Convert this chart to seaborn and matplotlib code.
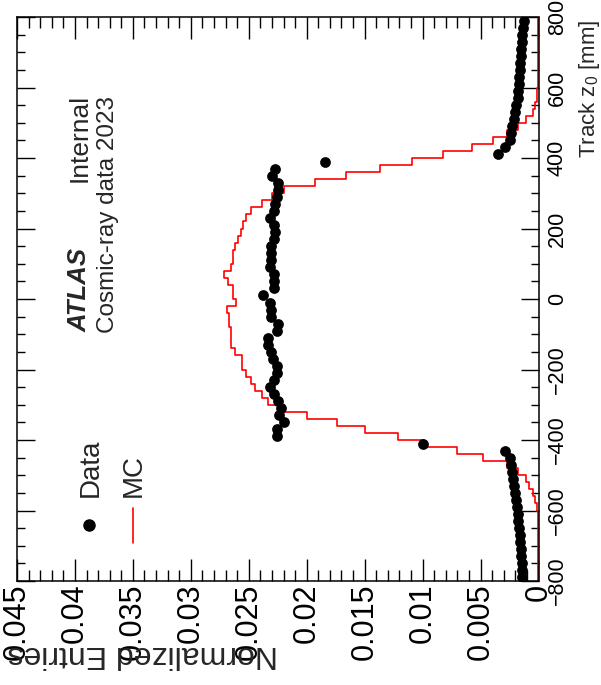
import numpy as np
import pandas as pd
import matplotlib
matplotlib.use("Agg")
import matplotlib.pyplot as plt
import seaborn as sns
from matplotlib.ticker import FixedLocator, FixedFormatter, MultipleLocator

# ---------------- data ----------------
z_edges = np.arange(-800, 801, 20)
z_centers = (z_edges[:-1] + z_edges[1:]) / 2

data_low_tail = [0.00139, 0.00142, 0.00145, 0.00149, 0.00154, 0.00158, 0.00163, 0.00168,
                 0.00175, 0.00180, 0.00185, 0.00192, 0.00200, 0.00208, 0.00216, 0.00226,
                 0.00235, 0.00248, 0.00290, 0.0100]
data_plateau = [0.0226, 0.0226, 0.0220, 0.0224, 0.0222, 0.0225, 0.0228, 0.0232, 0.0228, 0.0226,
                0.0226, 0.0229, 0.0231, 0.0233, 0.0233, 0.0226, 0.0225, 0.0231, 0.0231, 0.0232,
                0.0238, 0.0228, 0.0228, 0.0228, 0.0232, 0.0231, 0.0231, 0.0231, 0.0228, 0.0227,
                0.0228, 0.0232, 0.0228, 0.0227, 0.0226, 0.0225, 0.0225, 0.0230, 0.0227, 0.0184]
data_high_tail = [0.00352, 0.00286, 0.00248, 0.00236, 0.00226, 0.00212, 0.00200, 0.00190,
                  0.00181, 0.00176, 0.00170, 0.00165, 0.00160, 0.00156, 0.00153, 0.00149,
                  0.00145, 0.00140, 0.00134, 0.00128]
data_vals = data_low_tail + data_plateau + data_high_tail

mc_low = [0.00002] * 10 + [0.0001, 0.0003, 0.0005, 0.0008, 0.0011, 0.0018, 0.0027, 0.0048,
                           0.0070, 0.0099, 0.0121, 0.0150, 0.0174, 0.0200]
mc_mid_neg = [0.0223, 0.0233, 0.0239, 0.0245, 0.0248, 0.0252, 0.0256, 0.0256,
              0.0262, 0.0265, 0.0265, 0.0265, 0.0267, 0.0267, 0.0269, 0.0261]
mc_mid_pos = [0.0264, 0.0264, 0.0268, 0.0271, 0.0265, 0.0264, 0.0264, 0.0262,
              0.0259, 0.0257, 0.0255, 0.0252, 0.0248, 0.0239, 0.0230, 0.0220]
mc_high = [0.0193, 0.0166, 0.0137, 0.0109, 0.0082, 0.0057, 0.0039, 0.0027, 0.0018, 0.0011,
           0.0005, 0.0003, 0.00015, 0.0001] + [0.00002] * 10
mc_vals = mc_low + mc_mid_neg + mc_mid_pos + mc_high

x_ticks = [0, 0.005, 0.01, 0.015, 0.02, 0.025, 0.03, 0.035, 0.04, 0.045]
x_tick_labels = ["0", "0.005", "0.01", "0.015", "0.02", "0.025", "0.03", "0.035", "0.04", "0.045"]
z_ticks = [-800, -600, -400, -200, 0, 200, 400, 600, 800]
z_tick_labels = ["\u2212800", "\u2212600", "\u2212400", "\u2212200", "0", "200", "400", "600", "800"]

df_data = pd.DataFrame({"z": z_centers, "val": data_vals})
df_mc = pd.DataFrame({"z": z_centers, "val": mc_vals})

# ---------------- style ----------------
sns.set_theme(style="white")
plt.rcParams['font.family'] = ['Liberation Sans', 'DejaVu Sans']
plt.rcParams['mathtext.fontset'] = 'custom'
plt.rcParams['mathtext.rm'] = 'Liberation Sans'
plt.rcParams['mathtext.it'] = 'Liberation Sans:italic'

W, H = 601, 685
fig = plt.figure(figsize=(W / 100, H / 100), dpi=100)
L, R, T, B = 17, 538.5, 17, 581
ax = fig.add_axes([L / W, 1 - B / H, (R - L) / W, (B - T) / H])

sns.histplot(data=df_mc, y="z", weights="val", binwidth=20, binrange=(-800, 800),
             element="step", fill=False, color="#ff0000", linewidth=1.2, ax=ax, zorder=2)
sns.scatterplot(data=df_data, x="val", y="z", color="black", s=60, linewidth=0,
                ax=ax, legend=False, zorder=3)

ax.set_xlim(0.045, 0)
ax.set_ylim(-800, 800)
ax.set_xlabel("")
ax.set_ylabel("")

ax.xaxis.set_major_locator(FixedLocator(x_ticks))
ax.xaxis.set_major_formatter(FixedFormatter(x_tick_labels))
ax.xaxis.set_minor_locator(MultipleLocator(0.001))
ax.yaxis.set_major_locator(FixedLocator(z_ticks))
ax.yaxis.set_major_formatter(FixedFormatter(z_tick_labels))
ax.yaxis.set_minor_locator(MultipleLocator(50))

ax.tick_params(axis="both", which="both", direction="in", top=True, bottom=True,
               left=True, right=True, labelleft=False, labelright=True, labeltop=False,
               colors="black", width=1.0)
ax.tick_params(axis="x", which="major", length=16, labelsize=22, pad=2, labelrotation=90)
ax.tick_params(axis="x", which="minor", length=8)
ax.tick_params(axis="y", which="major", length=13, labelsize=15.5, pad=6, labelrotation=90)
ax.tick_params(axis="y", which="minor", length=6)
for lab in ax.get_yticklabels():
    lab.set_verticalalignment("center")
for sp in ax.spines.values():
    sp.set_color("black")
    sp.set_linewidth(1.1)
    sp.set_visible(True)

def fx(px):
    return px / W

def fy(py):
    return 1 - py / H

# axis titles
fig.text(fx(278), fy(646), "Normalized Entries", rotation=180, fontsize=23,
         ha="left", va="baseline", rotation_mode="anchor")
fig.text(fx(590), fy(20), r"Track z$_{0}$ [mm]", rotation=90, fontsize=16,
         ha="center", va="top")

# ATLAS label
fig.text(fx(87), fy(332), "ATLAS", rotation=90, fontsize=18.5, fontweight="bold",
         fontstyle="italic", ha="left", va="baseline", rotation_mode="anchor")
fig.text(fx(87), fy(182), "Internal", rotation=90, fontsize=19,
         ha="left", va="baseline", rotation_mode="anchor")
fig.text(fx(114), fy(333), "Cosmic-ray data 2023", rotation=90, fontsize=17.5,
         ha="left", va="baseline", rotation_mode="anchor")

# legend
ax.plot([89 / W], [fy(525)], transform=fig.transFigure, marker="o", color="black",
        markersize=8, linestyle="none")
fig.text(fx(98), fy(497), "Data", rotation=90, fontsize=20,
         ha="left", va="baseline", rotation_mode="anchor")
ax.plot([fx(133), fx(133)], [fy(508), fy(543)], transform=fig.transFigure,
        color="#ff0000", linewidth=1.2, clip_on=False)
fig.text(fx(141), fy(497), "MC", rotation=90, fontsize=20,
         ha="left", va="baseline", rotation_mode="anchor")

fig.savefig("out.png", dpi=100)
